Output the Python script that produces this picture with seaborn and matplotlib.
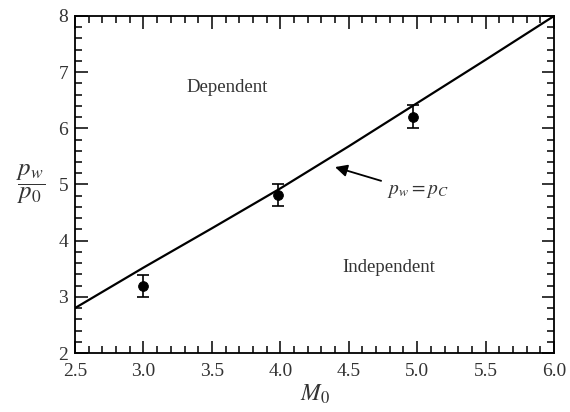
import pandas as pd
import matplotlib
matplotlib.use("Agg")
import matplotlib.pyplot as plt
from matplotlib.ticker import MultipleLocator
import seaborn as sns

# boundary curve p_w = p_C
curve_m0 = [2.5, 3.0, 3.5, 4.0, 4.5, 5.0, 5.5, 6.0]
curve_ratio = [2.8, 3.52, 4.22, 4.93, 5.68, 6.45, 7.22, 8.0]

# measured points with error bars
meas_m0 = [3.0, 3.98, 4.97]
meas_ratio = [3.19, 4.81, 6.21]
meas_err = [0.2, 0.2, 0.21]

sns.set_style("ticks")
plt.rcParams["font.family"] = ["Liberation Serif", "DejaVu Serif"]
plt.rcParams["mathtext.fontset"] = "stix"

fig = plt.figure(figsize=(5.7, 4.12), dpi=100)
ax = fig.add_axes([0.1316, 0.1432, 0.8404, 0.818])

curve = pd.DataFrame({"M0": curve_m0, "ratio": curve_ratio})
sns.lineplot(data=curve, x="M0", y="ratio", color="black", lw=1.6, ax=ax)

ax.errorbar(meas_m0, meas_ratio, yerr=meas_err, fmt="none", ecolor="black",
            elinewidth=1.2, capsize=4, capthick=1.2)
sns.scatterplot(x=meas_m0, y=meas_ratio, color="black", s=50, edgecolor="black",
                ax=ax, zorder=5)

ax.set_xlim(2.5, 6.0)
ax.set_ylim(2, 8)
ax.xaxis.set_major_locator(MultipleLocator(0.5))
ax.xaxis.set_minor_locator(MultipleLocator(0.1))
ax.yaxis.set_major_locator(MultipleLocator(1))
ax.yaxis.set_minor_locator(MultipleLocator(0.2))
ax.xaxis.set_major_formatter(plt.FormatStrFormatter("%.1f"))
ax.tick_params(which="both", direction="in", top=True, right=True, width=1.1,
               colors="black", labelsize=14, labelcolor="#333333")
ax.tick_params(which="major", length=9)
ax.tick_params(which="minor", length=5)
ax.tick_params(axis="x", pad=7)
ax.tick_params(axis="y", pad=5)
for s in ax.spines.values():
    s.set_linewidth(1.3)
    s.set_color("black")

ax.set_xlabel(r"$M_0$", fontsize=17, labelpad=2, color="#333333")
ax.set_ylabel(r"$\dfrac{p_w}{p_0}$", fontsize=18, rotation=0, labelpad=20,
              va="center", color="#333333")

ax.text(3.61, 6.72, "Dependent", fontsize=13.5, ha="center", va="center", color="#333333")
ax.text(4.79, 3.53, "Independent", fontsize=13.5, ha="center", va="center", color="#333333")
ax.annotate(r"$p_w = p_C$", xy=(4.40, 5.31), xytext=(4.78, 4.87), fontsize=14,
            ha="left", va="center", color="#333333",
            arrowprops=dict(arrowstyle="-|>", color="black", lw=1.3,
                            mutation_scale=18, shrinkA=2, shrinkB=0))

fig.savefig("out.png", dpi=100)
